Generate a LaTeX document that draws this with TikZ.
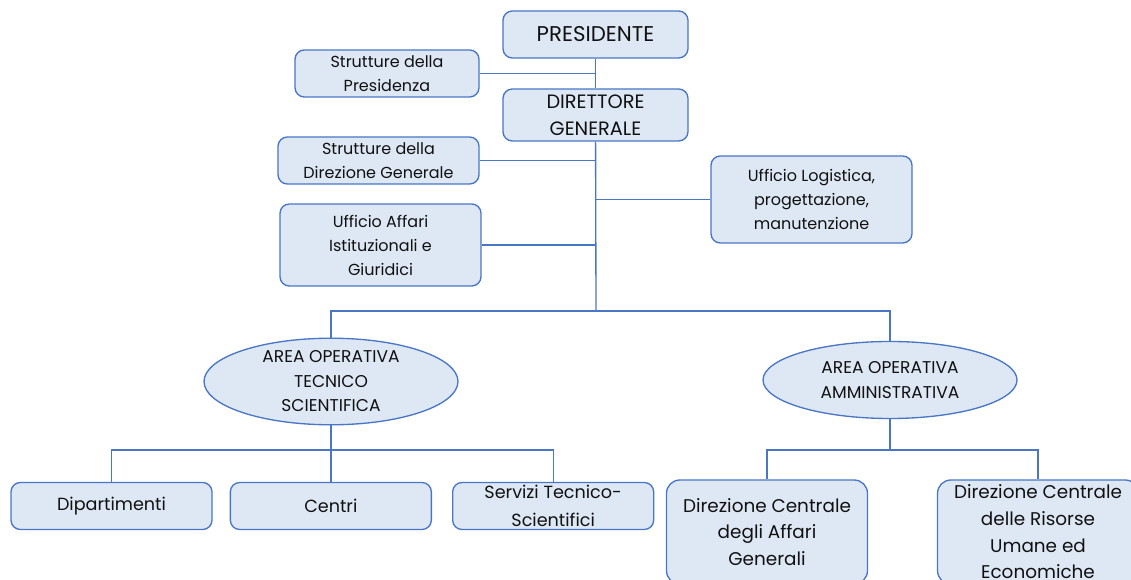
\documentclass[tikz,border=0pt]{standalone}
\usepackage{fontspec}
\setmainfont{Poppins}
\usepackage{tikz}
\usetikzlibrary{shapes.geometric,positioning}
\definecolor{boxfill}{HTML}{DEE8F5}
\definecolor{boxline}{HTML}{4A76C6}
\definecolor{inkblack}{HTML}{111111}

\begin{document}
\begin{tikzpicture}[x=0.75pt, y=-0.75pt, node distance=12.75pt,
    box/.style={draw=boxline, fill=boxfill, rounded corners=7pt, line width=1pt,
        align=center, inner sep=0pt, text=inkblack,
        minimum width=150.75pt, minimum height=35.25pt,
        font=\fontsize{12}{18}\selectfont},
    topbox/.style={box, minimum width=138.75pt, font=\fontsize{16}{19.5}\selectfont},
    rowbox/.style={box, font=\fontsize{13.2}{21}\selectfont},
    lowbox/.style={box, rounded corners=10pt, minimum height=78pt,
        font=\fontsize{13.8}{20}\selectfont},
    area/.style={ellipse, draw=boxline, fill=boxfill, line width=1pt, align=center,
        inner sep=0pt, text=inkblack, minimum width=190.5pt, minimum height=57.75pt,
        font=\fontsize{12.8}{18.4}\selectfont},
    link/.style={draw=boxline, line width=1pt}]
    \clip (0,0) rectangle (1131,580);

    % vertice
    \node[topbox] (pres) at (595.5,34.5) {PRESIDENTE};
    \node[box, minimum width=138pt] (strpres) at (387,73.5) {Strutture della\\Presidenza};
    \node[topbox, minimum height=39pt, font=\fontsize{14.5}{20}\selectfont] (dg) at (595.5,115) {DIRETTORE\\GENERALE};
    \node[box] (strdg) at (378.5,160.5) {Strutture della\\Direzione Generale};
    \node[box, minimum height=65.25pt] (logist) at (811.5,199.5) {Ufficio Logistica,\\progettazione,\\manutenzione};
    \node[box, minimum height=61.5pt] (affari) at (380.5,245) {Ufficio Affari\\Istituzionali e\\Giuridici};
    \coordinate (hub) at (596,311);

    % aree operative
    \node[area] (aots) at (331,381.5) {AREA OPERATIVA\\TECNICO\\SCIENTIFICA};
    \node[area] (aoa) at (890,380) {AREA OPERATIVA\\AMMINISTRATIVA};
    \coordinate (tsplit) at (331,450);
    \coordinate (asplit) at (890,450);

    % strutture
    \node[rowbox] (dip) at (111.5,506) {Dipartimenti};
    \node[rowbox, right=of dip] (centri) {Centri};
    \node[rowbox, right=15pt of centri] (servizi) {Servizi Tecnico-\\Scientifici};
    \node[lowbox] (dcag) at (767,532) {Direzione Centrale\\degli Affari\\Generali};
    \node[lowbox] (dcrue) at (1038,532) {Direzione Centrale\\delle Risorse\\Umane ed\\Economiche};

    \draw[link] (pres) -- (dg);
    \draw[link] (strpres) -- (strpres -| pres);
    \draw[link] (dg) -- (hub);
    \draw[link] (strdg) -- (strdg -| dg);
    \draw[link] (logist.west) -- (logist.west -| dg);
    \draw[link] (affari) -- (affari -| dg);
    \draw[link] (aots.north) |- (hub) -| (aoa.north);
    \draw[link] (aots) -- (tsplit);
    \draw[link] (dip.north) |- (tsplit) -| (servizi.north);
    \draw[link] (tsplit) -- (tsplit |- centri.north);
    \draw[link] (aoa) -- (asplit);
    \draw[link] (dcag.north) |- (asplit) -| (dcrue.north);
\end{tikzpicture}
\end{document}
